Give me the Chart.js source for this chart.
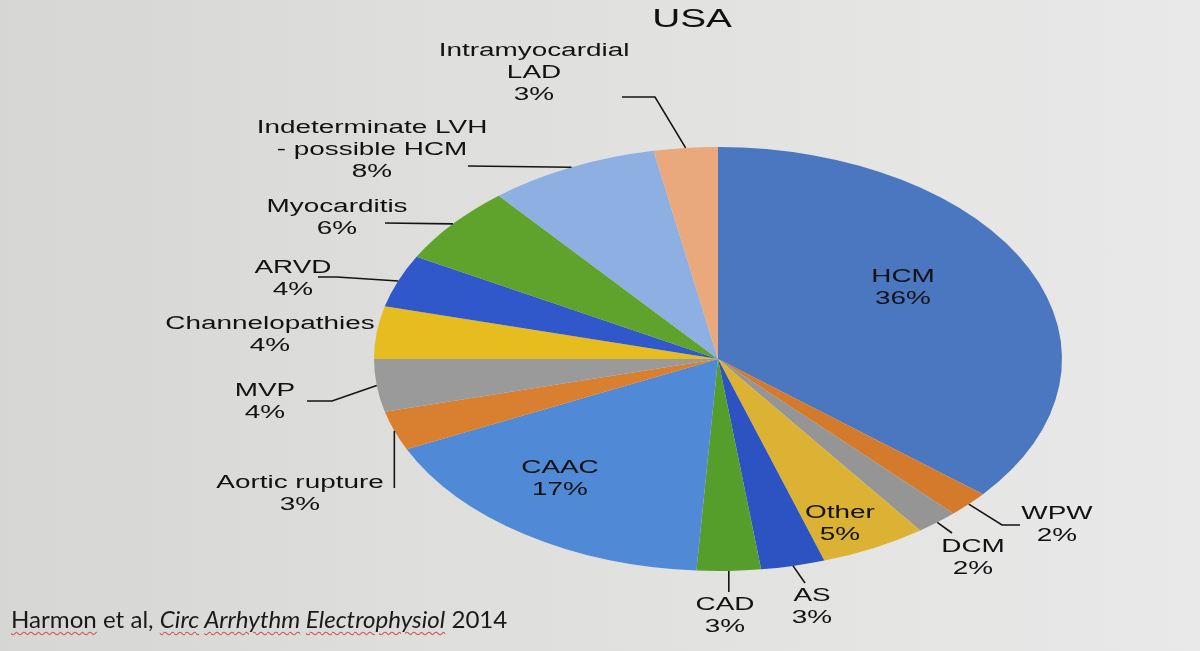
<!DOCTYPE html>
<html>
<head>
<meta charset="utf-8">
<script src="https://cdn.jsdelivr.net/npm/chart.js@4.4.1/dist/chart.umd.min.js"></script>
<style>
  html, body { margin: 0; padding: 0; }
  body {
    width: 1200px; height: 651px; overflow: hidden; position: relative;
    background: linear-gradient(to right, #d6d6d4 0%, #dededc 35%, #e9e9e9 100%);
  }
  #wrap { position: absolute; left: 0; top: 0; width: 1200px; height: 651px; }
  #title {
    position: absolute; left: 692px; top: 18px; line-height: 1;
    font: 25px "Liberation Sans", Arial, sans-serif; color: #111;
    transform: translate(-50%, -50%) scaleX(1.55); white-space: nowrap;
  }
  #source {
    position: absolute; left: 11px; top: 605px; line-height: 1.2;
    font: 23px Lato, "Open Sans", sans-serif; color: #1a1a1a;
    white-space: nowrap; transform-origin: left center;
  }
  .sq { text-decoration: underline wavy #d0504a; text-decoration-thickness: 1px; text-underline-offset: 3px; }
</style>
</head>
<body>
<div id="wrap"><canvas id="pie" width="1200" height="651"></canvas></div>
<div id="title">USA</div>
<div id="source"><span class="sq">Harmon</span> et al, <i><span class="sq">Circ</span> <span class="sq">Arrhythm</span> <span class="sq">Electrophysiol</span></i> 2014</div>
<script>
// data, clockwise from 12 o'clock
const causes = ['HCM', 'WPW', 'DCM', 'Other', 'AS', 'CAD', 'CAAC', 'Aortic rupture', 'MVP',
  'Channelopathies', 'ARVD', 'Myocarditis', 'Indeterminate LVH - possible HCM', 'Intramyocardial LAD'];
const percents = [36, 2, 2, 5, 3, 3, 17, 3, 4, 4, 4, 6, 8, 3];
const labelLines = [['HCM'], ['WPW'], ['DCM'], ['Other'], ['AS'], ['CAD'], ['CAAC'], ['Aortic rupture'], ['MVP'],
  ['Channelopathies'], ['ARVD'], ['Myocarditis'], ['Indeterminate LVH', '- possible HCM'], ['Intramyocardial', 'LAD']];
const sliceColors = ['#4a77c0', '#d47a2c', '#959595', '#dcb234', '#2d53c2', '#559e2c', '#5089d6', '#d8802f',
  '#9a9a9a', '#e6bc1e', '#3058ca', '#5fa22c', '#8eafe2', '#e9a97c'];

// photo of a slide: everything is stretched sideways
const RX = 344, RY = 212, TEXT_SX = 1.55, LINE_H = 22;

// label placement (x centre, y of first line) and leader elbows; null x = follow anchor
const labelLayout = [
  { x: 903, y: 277 },
  { x: 1057, y: 514, leader: [[1020, 525], [1002, 525]] },
  { x: 973, y: 547, leader: [[952, 533]] },
  { x: 840, y: 513 },
  { x: 812, y: 596, leader: [[805, 583]] },
  { x: 725, y: 605, leader: [[null, 592]] },
  { x: 560, y: 468 },
  { x: 300, y: 483, leader: [[null, 488]] },
  { x: 265, y: 391, leader: [[307, 401], [332, 401]] },
  { x: 270, y: 324 },
  { x: 293, y: 268, leader: [[318, 277], [337, 277]] },
  { x: 337, y: 207, leader: [[385, 223]] },
  { x: 372, y: 128, leader: [[468, 166]] },
  { x: 534, y: 51, leader: [[622, 97], [655, 97]] }
];

function edgePoint(arc) {
  const mid = (arc.startAngle + arc.endAngle) / 2;
  return { x: arc.x + Math.cos(mid) * RX, y: arc.y + Math.sin(mid) * RY };
}

function drawLabels(chart) {
  const ctx = chart.ctx;
  const arcs = chart.getDatasetMeta(0).data;
  ctx.save();
  ctx.font = '18px "Liberation Sans", Arial, sans-serif';
  ctx.fillStyle = '#121212';
  ctx.strokeStyle = '#141414';
  ctx.lineWidth = 1.6;
  ctx.textAlign = 'center';
  ctx.textBaseline = 'middle';
  arcs.forEach((arc, i) => {
    const lay = labelLayout[i];
    const lines = labelLines[i].concat(percents[i] + '%');
    lines.forEach((t, k) => {
      ctx.save();
      ctx.translate(lay.x, lay.y + k * LINE_H);
      ctx.scale(TEXT_SX, 1);
      ctx.fillText(t, 0, 0);
      ctx.restore();
    });
    if (lay.leader) {
      const p = edgePoint(arc);
      const pts = lay.leader.map(q => [q[0] === null ? p.x : q[0], q[1]]);
      ctx.beginPath();
      ctx.moveTo(pts[0][0], pts[0][1]);
      pts.slice(1).forEach(q => ctx.lineTo(q[0], q[1]));
      ctx.lineTo(p.x, p.y);
      ctx.stroke();
    }
  });
  ctx.restore();
}

// squash the round pie into the ellipse seen in the photo
const ellipsePie = {
  id: 'ellipsePie',
  beforeDatasetsDraw(chart) {
    const arc = chart.getDatasetMeta(0).data[0];
    const ctx = chart.ctx;
    ctx.save();
    ctx.translate(arc.x, arc.y);
    ctx.scale(RX / arc.outerRadius, RY / arc.outerRadius);
    ctx.translate(-arc.x, -arc.y);
  },
  afterDatasetsDraw(chart) {
    chart.ctx.restore();
    drawLabels(chart);
  }
};

new Chart(document.getElementById('pie').getContext('2d'), {
  type: 'pie',
  data: {
    labels: causes,
    datasets: [{
      data: percents,
      backgroundColor: sliceColors,
      borderWidth: 0,
      clip: false
    }]
  },
  options: {
    responsive: false,
    animation: false,
    events: [],
    layout: { padding: { left: 518, right: 282, top: 159, bottom: 92 } },
    plugins: {
      legend: { display: false },
      tooltip: { enabled: false },
      title: { display: false }
    }
  },
  plugins: [ellipsePie]
});

// fit the source line to its width in the photo
const src = document.getElementById('source');
src.style.transform = 'scaleX(' + (496 / src.offsetWidth) + ')';
</script>
</body>
</html>
